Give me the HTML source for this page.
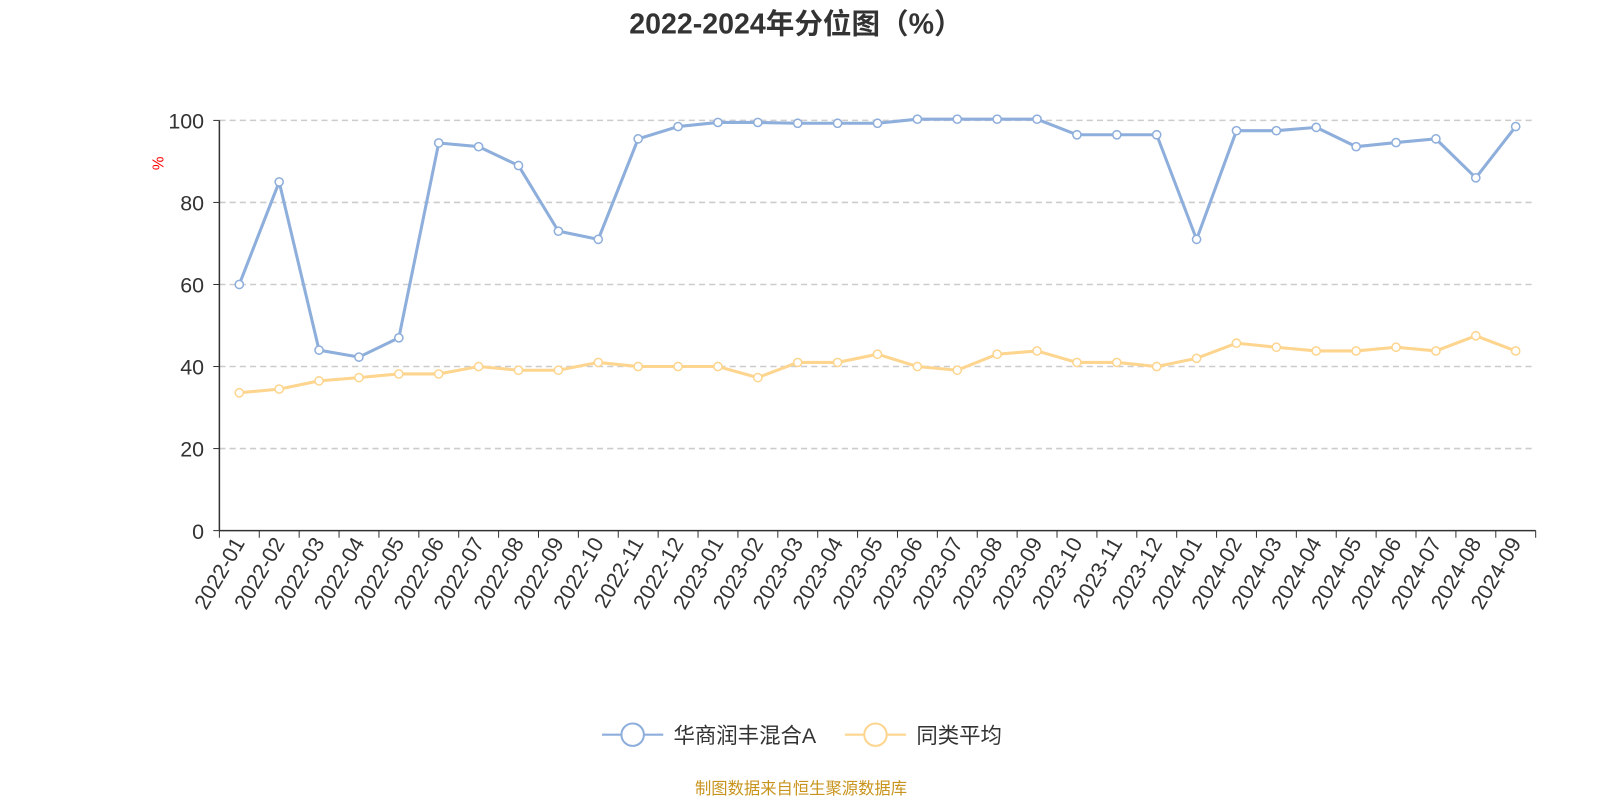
<!DOCTYPE html>
<html><head><meta charset="utf-8"><style>body{margin:0;background:#fff}svg{display:block}text{font-family:"Liberation Sans","Noto Sans CJK SC",sans-serif}</style></head>
<body>
<svg width="1600" height="800" xmlns="http://www.w3.org/2000/svg">
<g transform="scale(1.0204)" id="root">
<text x="780" y="33" text-anchor="middle" font-size="28" font-weight="bold" fill="#333">2022-2024年分位图（%）</text>
<text x="160" y="160" font-size="15" fill="red" transform="rotate(-90 160 160)" text-anchor="middle">%</text>
<g id="grid"></g>
<line x1="215" y1="118" x2="215" y2="520" stroke="#333" stroke-width="1.5"/>
<line x1="215" y1="520" x2="1505" y2="520" stroke="#333" stroke-width="1.5"/>
<g id="ticks"></g>
<g id="series"></g>
<line x1="590" y1="720" x2="650" y2="720" stroke="#8eaedb" stroke-width="2"/>
<circle cx="620" cy="720" r="11" fill="#fff" stroke="#8eaedb" stroke-width="2"/>
<text x="660" y="728" font-size="21" fill="#333">华商润丰混合A</text>
<line x1="828" y1="720" x2="888" y2="720" stroke="#fdd58f" stroke-width="2"/>
<circle cx="858" cy="720" r="11" fill="#fff" stroke="#fdd58f" stroke-width="2"/>
<text x="898" y="728" font-size="21" fill="#333">同类平均</text>
<text x="785" y="778" text-anchor="middle" font-size="16" fill="#c8941e">制图数据来自恒生聚源数据库</text>
</g>
</svg>
<script>
const NS="http://www.w3.org/2000/svg";
function el(p,t,a,txt){const e=document.createElementNS(NS,t);for(const k in a)e.setAttribute(k,a[k]);if(txt!=null)e.textContent=txt;document.getElementById(p).appendChild(e);}
const y=v=>520-v*4.02, x=i=>234.5+i*39.09;
for(let v=0;v<=100;v+=20){if(v>0)el("grid","line",{x1:215,x2:1505,y1:y(v),y2:y(v),stroke:"#ccc","stroke-dasharray":"6,4","stroke-width":1.5});
el("grid","text",{x:200,y:y(v)+8,"text-anchor":"end","font-size":21,fill:"#333"},v);
el("grid","line",{x1:209,x2:215,y1:y(v),y2:y(v),stroke:"#333"});}
const labels=[];for(let yr=2022;yr<=2024;yr++)for(let m=1;m<=12;m++){if(yr==2024&&m>9)break;labels.push(yr+"-"+String(m).padStart(2,"0"));}
for(let i=0;i<=33;i++){const tx=215+i*39.09;el("ticks","line",{x1:tx,x2:tx,y1:520,y2:527,stroke:"#333"});}
labels.forEach((l,i)=>{const tx=x(i)+6,ty=532;el("ticks","text",{x:tx,y:ty,"text-anchor":"end","font-size":21,fill:"#333",transform:`rotate(-60 ${tx} ${ty})`},l);});
const a=[60,85,44,42.3,47,94.5,93.6,89,73,71,95.5,98.5,99.5,99.5,99.3,99.3,99.3,100.3,100.3,100.3,100.3,96.5,96.5,96.5,71,97.5,97.5,98.3,93.6,94.6,95.5,86,98.5];
const b=[33.6,34.5,36.5,37.3,38.2,38.2,40,39.1,39.1,41,40,40,40,37.3,41,41,43,40,39.1,43,43.8,41,41,40,42,45.7,44.7,43.8,43.8,44.7,43.8,47.5,43.8];
[[b,"#fdd58f"],[a,"#8eaedb"]].forEach(([d,c])=>{el("series","polyline",{points:d.map((v,i)=>x(i)+","+y(v)).join(" "),fill:"none",stroke:c,"stroke-width":3});
d.forEach((v,i)=>el("series","circle",{cx:x(i),cy:y(v),r:4,fill:"#fff",stroke:c,"stroke-width":1.5}));});
</script>
</body></html>
